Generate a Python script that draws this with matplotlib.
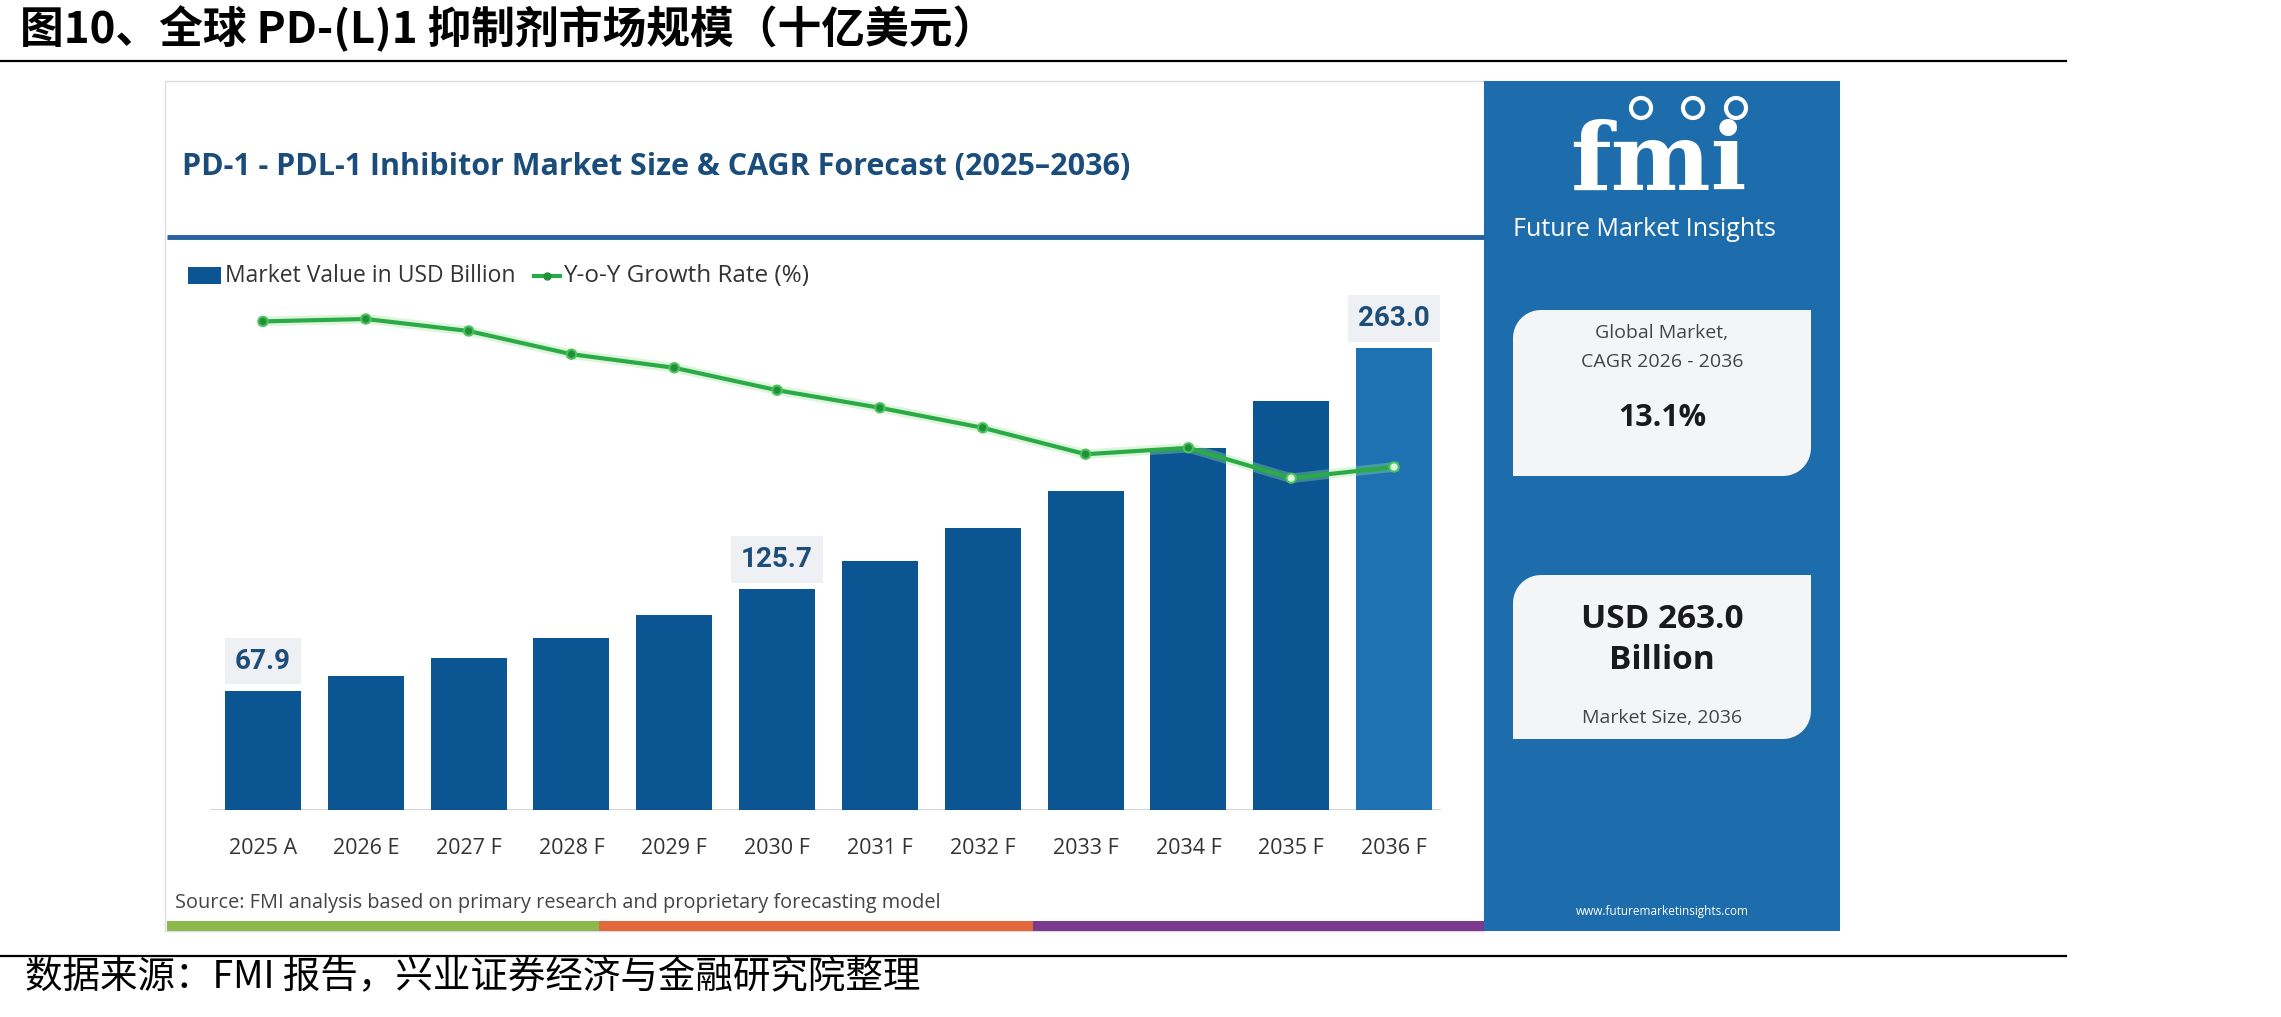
import matplotlib
matplotlib.use("Agg")
import matplotlib.pyplot as plt
import numpy as np
from matplotlib.patches import Rectangle, Polygon, Circle

plt.rcParams['font.family'] = ['Noto Sans CJK SC', 'DejaVu Sans']

# ---- data ----
years = ['2025 A', '2026 E', '2027 F', '2028 F', '2029 F', '2030 F',
         '2031 F', '2032 F', '2033 F', '2034 F', '2035 F', '2036 F']
market_value = [67.9, 76.4, 86.6, 98.0, 111.1, 125.7,
                141.9, 160.7, 181.8, 206.3, 233.0, 263.0]
yoy_growth = [13.97, 14.00, 13.85, 13.56, 13.39, 13.11,
              12.89, 12.64, 12.31, 12.39, 12.01, 12.15]
labelled = ['2025 A', '2030 F', '2036 F']

fig_title = '图10、全球 PD-(L)1 抑制剂市场规模（十亿美元）'
chart_title = 'PD-1 - PDL-1 Inhibitor Market Size & CAGR Forecast (2025\u20132036)'
source_en = 'Source: FMI analysis based on primary research and proprietary forecasting model'
source_cn = '数据来源：FMI 报告，兴业证券经济与金融研究院整理'
cagr_text = '13.1%'
size_text = 'USD 263.0\nBillion'

W, H = 2281, 1017
BAR = '#0b5592'
BAR_LAST = '#1f72b2'
PANEL = '#1d6cab'
GREEN = '#2bab46'

fig = plt.figure(figsize=(W / 100, H / 100), dpi=100)

# background layer in pixel coords
bg = fig.add_axes([0, 0, 1, 1], zorder=0)
bg.set_xlim(0, W)
bg.set_ylim(H, 0)
bg.axis('off')

bg.text(20, 29, fig_title, fontsize=31.5, fontweight='bold', va='center', ha='left')
bg.plot([0, 2066], [61, 61], color='black', lw=1.6)
bg.plot([0, 2066], [956, 956], color='black', lw=1.6)
bg.text(25, 978, source_cn, fontsize=27, va='center', ha='left')

# left white panel
bg.add_patch(Rectangle((165, 81), 1319, 850, fc='white', ec='#d9dde2', lw=1))
bg.text(182, 167, chart_title, fontsize=22, fontweight='bold', color='#1b4d7c',
        family=['Open Sans', 'DejaVu Sans'], va='center', ha='left')
bg.plot([167, 1484], [237, 237], color='#2563a0', lw=3.5, solid_capstyle='butt')

# legend
bg.add_patch(Rectangle((188, 267), 33, 17, fc=BAR, ec='none'))
bg.text(225, 276, 'Market Value in USD Billion', fontsize=16.5, color='#333333',
        family=['Open Sans'], va='center', ha='left')
bg.plot([534, 560], [276, 276], color=GREEN, lw=3)
bg.plot([547], [276], 'o', color='#1f8f38', ms=5)
bg.text(563, 276, 'Y-o-Y Growth Rate (%)', fontsize=17.5, color='#333333',
        family=['Open Sans'], va='center', ha='left')

bg.text(175, 903, source_en, fontsize=14.3, color='#444444',
        family=['Open Sans'], va='center', ha='left')

# coloured strip under panel
for x0, x1, c in [(167, 599, '#8cb84c'), (599, 1033, '#e0683a'), (1033, 1484, '#7b3a8e')]:
    bg.add_patch(Rectangle((x0, 921), x1 - x0, 10, fc=c, ec='none'))

# right blue panel
bg.add_patch(Rectangle((1484, 81), 356, 850, fc=PANEL, ec='none'))
bg.text(1658, 190, 'fmi', fontsize=68, fontweight='bold', color='white',
        family=['DejaVu Serif'], ha='center', va='baseline')
for yy in np.arange(126, 192, 7):
    bg.plot([1530, 1790], [yy, yy], color=PANEL, lw=1.6)
for cx in [1641, 1693, 1736]:
    bg.add_patch(Circle((cx, 108), 10, fc=PANEL, ec='white', lw=3))
bg.text(1644, 229, 'Future Market Insights', fontsize=18, color='white',
        family=['Open Sans'], ha='center', va='center')


def leaf_box(x0, y0, x1, y1, r):
    # rounded top-left and bottom-right corners (y axis is inverted)
    t = np.linspace(0, np.pi / 2, 12)
    pts = [(x1, y0)]
    pts += list(zip(x1 - r + r * np.cos(t), y1 - r + r * np.sin(t)))
    pts += [(x0, y1)]
    pts += list(zip(x0 + r - r * np.cos(t), y0 + r - r * np.sin(t)))
    return Polygon(pts, closed=True, fc='#f4f5f7', ec='none')


bg.add_patch(leaf_box(1513, 310, 1811, 476, 28))
bg.text(1662, 333, 'Global Market,', fontsize=14, color='#444444',
        family=['Open Sans'], ha='center', va='center')
bg.text(1662, 362, 'CAGR 2026 - 2036', fontsize=14, color='#444444',
        family=['Open Sans'], ha='center', va='center')
bg.text(1662, 418, cagr_text, fontsize=22, fontweight='bold', color='#1a1a1a',
        family=['Open Sans'], ha='center', va='center')

bg.add_patch(leaf_box(1513, 575, 1811, 739, 28))
bg.text(1662, 640, size_text, fontsize=24, fontweight='bold', color='#1a1a1a',
        family=['Open Sans'], ha='center', va='center', linespacing=1.3)
bg.text(1662, 718, 'Market Size, 2036', fontsize=14, color='#444444',
        family=['Open Sans'], ha='center', va='center')
bg.text(1662, 911, 'www.futuremarketinsights.com', fontsize=8.5, color='white',
        family=['Open Sans'], ha='center', va='center')

# ---- chart ----
ax = fig.add_axes([191 / W, (H - 810) / H, 1275 / W, 510 / H], zorder=2)
ax.patch.set_alpha(0)
x = np.arange(len(years))
colors = [BAR] * (len(years) - 1) + [BAR_LAST]
ax.bar(x, market_value, width=0.74, color=colors, zorder=2)
ax.plot([-0.51, 11.45], [0, 0], color='#d3d7db', lw=1.5, zorder=1)
ax.set_xlim(-0.7, 11.7)
ax.set_ylim(0, 290.6)
ax.set_xticks(x)
ax.set_xticklabels(years, fontsize=15.5, color='#333333', family=['Open Sans'])
ax.tick_params(axis='x', length=0, pad=20)
ax.set_yticks([])
for s in ax.spines.values():
    s.set_visible(False)

for i, lab in enumerate(years):
    if lab in labelled:
        ax.text(i, market_value[i] + 17, f'{market_value[i]:.1f}', ha='center',
                va='center', fontsize=20, fontweight='bold', color='#1d4d79',
                family=['Roboto'],
                bbox=dict(boxstyle='square,pad=0.35', fc='#eef0f3', ec='none'))

ax2 = ax.twinx()
ax2.set_ylim(7.8625, 14.2375)
ax2.axis('off')
ax2.plot(x, yoy_growth, color='#9be49b', lw=7, alpha=0.35, zorder=3)
ax2.plot(x, yoy_growth, color=GREEN, lw=3, zorder=4)
face = ['#1f8f38'] * 10 + ['#dff5df'] * 2
ax2.scatter(x, yoy_growth, s=45, c=face, edgecolors='#4cc25e', linewidths=1.5, zorder=5)

fig.savefig('out.png', dpi=100)
